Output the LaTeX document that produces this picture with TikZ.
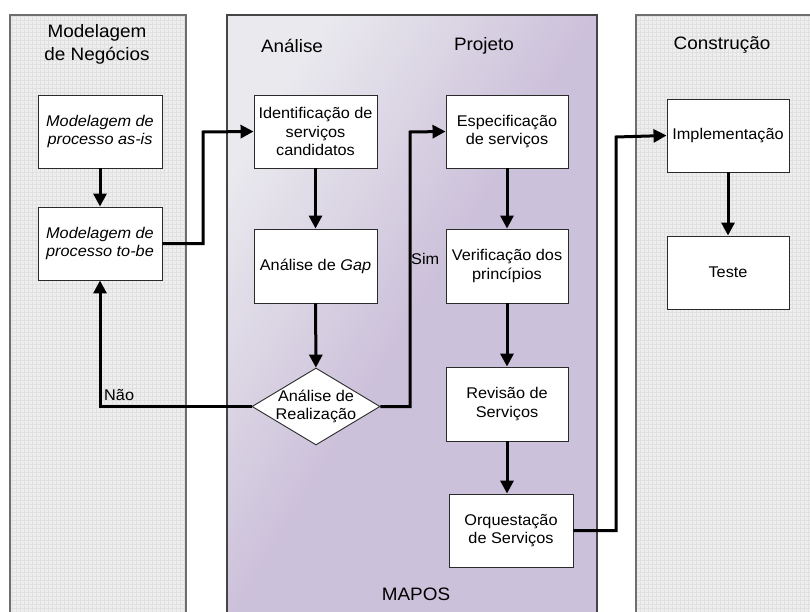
\documentclass[tikz,border=0pt]{standalone}
\usepackage{fontspec}
\setmainfont{Liberation Sans}[FakeStretch=1.05]
\usetikzlibrary{arrows.meta,shapes.geometric}

\definecolor{panelgray}{HTML}{EEEEEE}
\definecolor{gridgray}{HTML}{E0E0E0}
\definecolor{panelline}{HTML}{6E6E6E}
\definecolor{mapsline}{HTML}{454545}
\definecolor{maposlight}{RGB}{234,233,238}
\definecolor{mapospurple}{RGB}{204,193,218}
\definecolor{boxline}{HTML}{2A2A2A}

% light corner fading into lavender for the MAPOS lane
\pgfdeclarehorizontalshading{maposshade}{100bp}{%
  color(0bp)=(maposlight); color(25bp)=(maposlight);
  color(50bp)=(mapospurple); color(100bp)=(mapospurple)}

\newcommand{\boxfont}{\fontsize{15.5}{18.5}\selectfont}
\newcommand{\lanefont}{\fontsize{18}{23}\selectfont}

\tikzset{
  procbox/.style={draw=boxline, fill=white, line width=0.9pt,
    minimum width=123pt, minimum height=73pt, inner sep=2pt,
    align=center, font=\boxfont},
  decision/.style={diamond, draw=boxline, fill=white, line width=0.9pt,
    minimum width=128pt, minimum height=77pt, inner sep=0pt},
  lanetitle/.style={align=center, font=\lanefont, inner sep=0pt},
  flowlabel/.style={font=\boxfont, inner sep=0pt},
  flow/.style={line width=3pt, -{Triangle[length=13pt,width=13pt]}},
  laneborder/.style={line width=1.6pt},
}

\begin{document}
\begin{tikzpicture}[x=1pt,y=-1pt]
\useasboundingbox (0,0) rectangle (810,612);

% side lanes with a fine grid texture
\foreach \lx/\rx in {10/186, 636/812}{
  \fill[panelgray] (\lx,15) rectangle (\rx,620);
  \begin{scope}
    \clip (\lx,15) rectangle (\rx,620);
    \draw[gridgray, line width=0.4pt, step=4pt] (\lx,15) grid (\rx,620);
  \end{scope}
  \draw[panelline, laneborder] (\lx,620) -- (\lx,15) -- (\rx,15) -- (\rx,620);
}

% MAPOS lane
\shade[shading=maposshade, shading angle=-31] (227,15) rectangle (597,620);
\draw[mapsline, laneborder] (227,620) -- (227,15) -- (597,15) -- (597,620);

% lane titles
\node[lanetitle] (tmn) at (97,44) {Modelagem\\de Negócios};
\node[lanetitle] (tan) at (292,46) {Análise};
\node[lanetitle] (tpj) at (484,46) {Projeto};
\node[lanetitle] (tcs) at (722,45) {Construção};
\node[lanetitle] (tmp) at (416,594) {MAPOS};

% process steps
\node[procbox, minimum width=124pt] (asis) at (100,131.5) {\itshape Modelagem de\\\itshape processo as-is};
\node[procbox, minimum width=124pt] (tobe) at (100,243.5) {\itshape Modelagem de\\\itshape processo to-be};
\node[procbox] (ident) at (315.5,131.5) {Identificação de\\serviços\\candidatos};
\node[procbox, minimum height=74pt] (gap) at (315.5,266) {Análise de \textit{Gap}};
\node[decision] (real) at (316,406.5) {};
\node[flowlabel, align=center] (realtxt) at (real.center) {Análise de\\Realização};
\node[procbox, minimum width=122pt] (espec) at (507,131.5) {Especificação\\de serviços};
\node[procbox, minimum width=122pt, minimum height=74pt] (verif) at (507,266) {Verificação dos\\princípios};
\node[procbox, minimum width=122pt, minimum height=74pt] (revis) at (507,404) {Revisão de\\Serviços};
\node[procbox, minimum width=124pt] (orq) at (511,530.5) {Orquestação\\de Serviços};
\node[procbox, minimum width=122pt] (impl) at (728,135.5) {Implementação};
\node[procbox, minimum width=122pt] (teste) at (728,272.5) {Teste};

% bend points of the elbow connectors
\coordinate (bendA) at (203,132);
\coordinate (bendB) at (410,132);
\coordinate (bendC) at (616,137);

% connectors
\draw[flow] (asis) -- (tobe);
\draw[flow] (tobe.east) -| (bendA) -- (ident.west);
\draw[flow] (ident) -- (gap);
\draw[flow] (gap) -- (real);
\draw[flow] (real.west) -| (tobe.south);
\draw[flow] (real.east) -| (bendB) -- (espec.west);
\draw[flow] (espec) -- (verif);
\draw[flow] (verif) -- (revis);
\draw[flow] (revis.south) -- (revis.south |- orq.north);
\draw[flow] (orq.east) -| (bendC) -- (impl.west);
\draw[flow] (impl) -- (teste);

% branch labels
\node[flowlabel, anchor=west] (nao) at (104,395) {Não};
\node[flowlabel, anchor=west] (sim) at (411,259) {Sim};
\end{tikzpicture}
\end{document}
